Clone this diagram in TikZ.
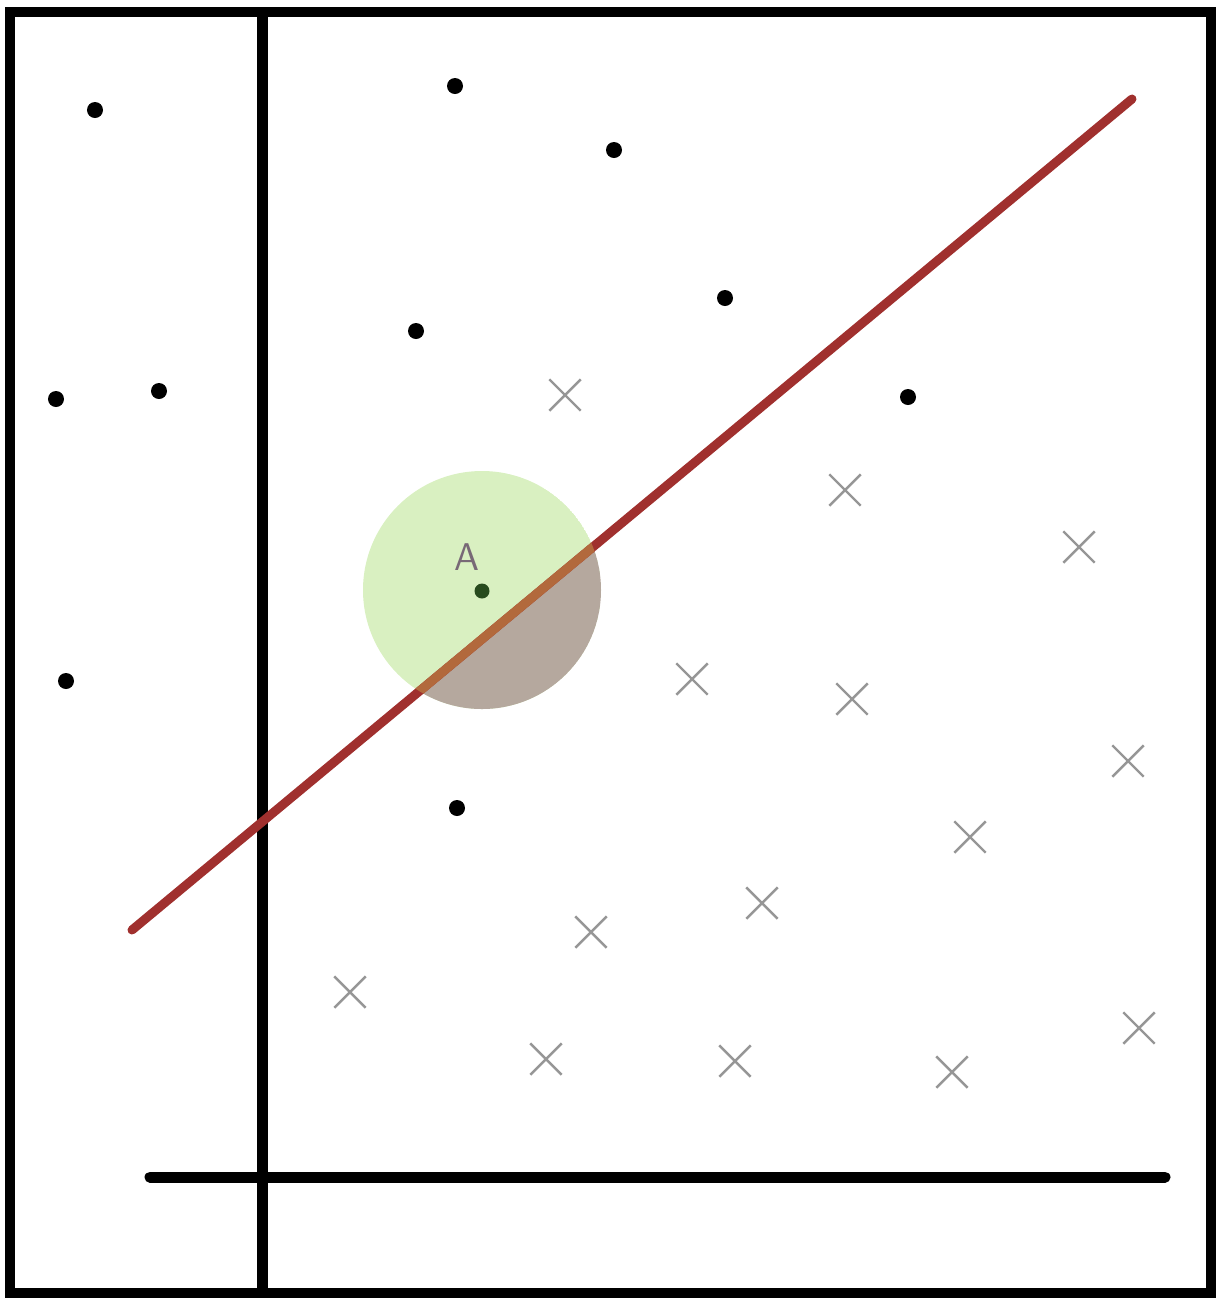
\documentclass[tikz,border=0pt]{standalone}
\usetikzlibrary{shapes.misc}
\definecolor{redline}{RGB}{160,48,46}
\definecolor{greenfill}{RGB}{217,240,193}
\definecolor{brownfill}{RGB}{181,168,158}
\definecolor{dotgreen}{RGB}{40,75,30}
\definecolor{labelgray}{RGB}{120,105,118}
\definecolor{crossgray}{RGB}{150,150,150}
\tikzset{
  frameline/.style={line width=0.1cm, black},
  axisline/.style={line width=0.11cm, black, line cap=round},
  blackdot/.style={circle, fill=black, inner sep=0pt, minimum size=0.16cm},
  crossmark/.style={cross out, draw=crossgray, line width=0.7pt, inner sep=0pt, minimum size=0.29cm},
  sepline/.style={line width=0.09cm, redline, line cap=round},
}
\begin{document}
\begin{tikzpicture}
\useasboundingbox (0,0) rectangle (12.22,-12.98);
% frame
\draw[frameline] (0.10,-0.12) rectangle (12.11,-12.925);
% axes
\coordinate (vtop) at (2.62,-0.12);
\coordinate (vbot) at (2.62,-12.925);
\draw[line width=0.11cm] (vtop) -- (vbot);
\coordinate (hl) at (1.50,-11.77);
\coordinate (hr) at (11.65,-11.77);
\draw[axisline] (hl) -- (hr);
% circle region
\coordinate (c) at (4.82,-5.90);
\coordinate (l1) at (1.32,-9.30);
\coordinate (l2) at (11.32,-0.99);
\begin{scope}
  \clip (c) circle (1.19);
  \fill[greenfill] (c) circle (1.19);
  \fill[brownfill] (l1) -- (l2) -- (11.32,-9.30) -- cycle;
\end{scope}
% separating line
\draw[sepline] (l1) -- (l2);
\begin{scope}
  \clip (c) circle (1.19);
  \draw[line width=0.09cm, color={rgb,255:red,178;green,105;blue,60}] (l1) -- (l2);
\end{scope}
% point A
\node[circle, fill=dotgreen, inner sep=0pt, minimum size=0.15cm] (A) at (4.82,-5.91) {};
\node[text=labelgray, font=\sffamily\fontsize{11}{13}\selectfont] (Alabel) at (4.67,-5.57) {A};
% black dots
\node[blackdot] (d1) at (0.95,-1.10) {};
\node[blackdot] (d2) at (4.55,-0.86) {};
\node[blackdot] (d3) at (6.14,-1.50) {};
\node[blackdot] (d4) at (7.25,-2.98) {};
\node[blackdot] (d5) at (4.16,-3.31) {};
\node[blackdot] (d6) at (0.56,-3.99) {};
\node[blackdot] (d7) at (1.59,-3.91) {};
\node[blackdot] (d8) at (9.08,-3.97) {};
\node[blackdot] (d9) at (0.66,-6.81) {};
\node[blackdot] (d10) at (4.57,-8.08) {};
% crosses
\node[crossmark] (x1) at (5.65,-3.95) {};
\node[crossmark] (x2) at (8.45,-4.90) {};
\node[crossmark] (x3) at (10.79,-5.47) {};
\node[crossmark] (x4) at (6.92,-6.79) {};
\node[crossmark] (x5) at (8.52,-6.99) {};
\node[crossmark] (x6) at (11.28,-7.61) {};
\node[crossmark] (x7) at (9.70,-8.37) {};
\node[crossmark] (x8) at (7.62,-9.03) {};
\node[crossmark] (x9) at (5.91,-9.32) {};
\node[crossmark] (x10) at (3.50,-9.92) {};
\node[crossmark] (x11) at (5.46,-10.59) {};
\node[crossmark] (x12) at (7.35,-10.61) {};
\node[crossmark] (x13) at (9.52,-10.72) {};
\node[crossmark] (x14) at (11.39,-10.28) {};
\end{tikzpicture}
\end{document}
